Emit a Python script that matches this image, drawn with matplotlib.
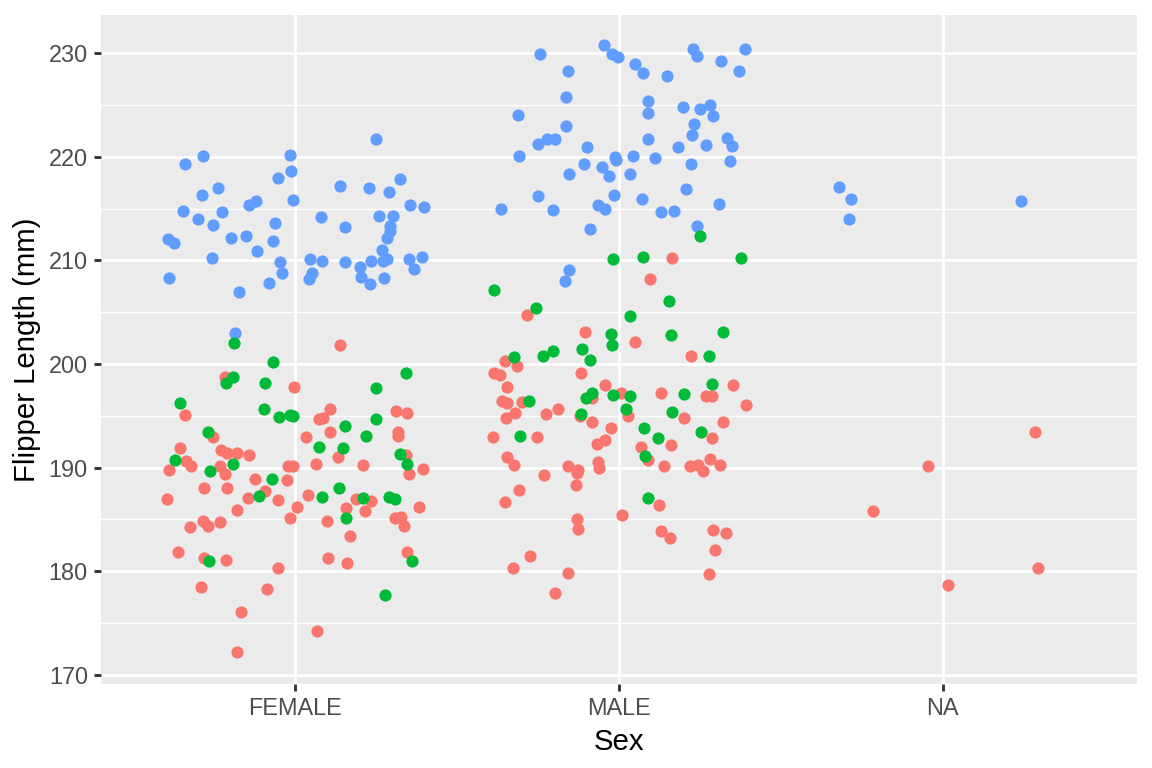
import matplotlib.pyplot as plt

# Font close to the Helvetica/Arial look of the original
plt.rcParams['font.family'] = ['Liberation Sans', 'DejaVu Sans']

# --- Data: flipper length (mm) by sex, with the horizontal jitter seen in the chart ---
sex_levels = ["FEMALE", "MALE", "NA"]

# FEMALE
female_adelie_jit = [0.138, -0.216, -0.005, -0.342, 0.108, 0.073, 0.087, 0.310, 0.346, 0.108,
                     0.032, 0.318, 0.318, -0.254, -0.355, -0.229, -0.210, -0.181, -0.142, 0.133,
                     -0.338, -0.323, -0.390, -0.233, -0.218, -0.021, -0.007, 0.065, 0.209, 0.342,
                     0.350, 0.395, -0.125, -0.027, -0.282, -0.211, -0.396, -0.147, -0.095, -0.053,
                     0.040, 0.189, 0.233, 0.381, 0.005, -0.179, 0.156, 0.215, 0.309, 0.326,
                     0.335, -0.016, 0.099, -0.284, -0.270, -0.325, -0.231, 0.169, -0.363, -0.282,
                     -0.214, 0.102, 0.159, 0.344, -0.054, -0.292, -0.088, -0.167, 0.066, -0.181]
female_adelie_len = [201.8, 198.7, 197.8, 195.1, 195.7, 194.7, 194.8, 195.5, 195.3, 193.4,
                     193.0, 193.4, 193.1, 193.0, 191.9, 191.7, 191.4, 191.4, 191.2, 191.0,
                     190.6, 190.2, 189.8, 190.2, 189.4, 190.2, 190.2, 190.4, 190.3, 191.2,
                     189.4, 189.9, 188.9, 188.8, 188.0, 188.0, 187.0, 187.1, 187.7, 186.9,
                     187.4, 187.0, 186.8, 186.2, 186.2, 185.9, 186.1, 185.8, 185.1, 185.2,
                     184.4, 185.1, 184.9, 184.9, 184.4, 184.3, 184.8, 183.4, 181.9, 181.3,
                     181.1, 181.3, 180.8, 181.9, 180.3, 178.5, 178.3, 176.1, 174.2, 172.2]

female_gentoo_jit = [0.248, -0.285, -0.342, -0.015, -0.012, -0.053, -0.239, -0.287, 0.139, 0.227,
                     0.290, 0.324, -0.007, -0.122, -0.142, -0.348, -0.226, -0.299, -0.255, 0.355,
                     0.399, 0.079, 0.258, 0.301, 0.155, -0.062, 0.294, 0.294, 0.283, -0.394,
                     -0.376, -0.200, -0.152, -0.068, -0.117, -0.258, 0.268, 0.044, 0.083, 0.155,
                     0.199, 0.234, 0.271, 0.282, 0.351, 0.391, 0.367, -0.047, -0.042, 0.052,
                     0.043, -0.391, 0.203, 0.275, 0.232, -0.080, -0.175, -0.186]
female_gentoo_len = [221.7, 220.1, 219.3, 220.2, 218.6, 217.9, 217.0, 216.3, 217.2, 217.0,
                     216.6, 217.8, 215.8, 215.7, 215.3, 214.8, 214.7, 214.0, 213.4, 215.3,
                     215.1, 214.2, 214.3, 214.3, 213.2, 213.6, 213.3, 212.8, 212.2, 212.1,
                     211.7, 212.2, 212.3, 211.9, 210.9, 210.2, 211.0, 210.1, 209.9, 209.8,
                     209.4, 209.9, 209.9, 210.1, 210.1, 210.3, 209.2, 209.8, 208.8, 208.8,
                     208.2, 208.3, 208.4, 208.3, 207.7, 207.8, 206.9, 203.0]

female_chinstrap_jit = [-0.190, -0.070, 0.342, -0.193, -0.215, -0.094, 0.250, -0.355, -0.098, -0.050,
                        -0.015, -0.008, 0.249, 0.153, 0.218, -0.271, 0.072, 0.147, -0.371, -0.262,
                        -0.192, 0.323, 0.346, -0.071, -0.112, 0.082, 0.136, 0.208, 0.288, 0.308,
                        0.156, -0.266, 0.362, 0.276]
female_chinstrap_len = [202.0, 200.2, 199.1, 198.7, 198.2, 198.2, 197.7, 196.2, 195.7, 194.9,
                        195.1, 195.0, 194.7, 194.0, 193.1, 193.4, 192.0, 191.9, 190.7, 189.7,
                        190.4, 191.3, 190.4, 188.9, 187.3, 187.2, 188.0, 187.1, 187.2, 187.0,
                        185.1, 181.0, 181.0, 177.7]

# MALE
male_adelie_jit = [0.163, 0.095, -0.284, -0.106, 0.049, 0.222, -0.353, -0.315, -0.387, -0.369,
                   -0.118, -0.347, -0.044, -0.084, 0.005, 0.130, 0.352, 0.269, 0.287, 0.391,
                   -0.361, -0.345, -0.299, -0.348, -0.321, -0.227, -0.187, -0.122, 0.027, 0.202,
                   0.321, -0.083, -0.024, -0.389, -0.253, -0.043, -0.067, 0.162, 0.287, 0.069,
                   0.091, -0.345, -0.325, -0.157, -0.127, -0.131, -0.066, -0.062, 0.138, 0.218,
                   0.243, 0.258, 0.280, 0.313, -0.233, -0.132, -0.310, -0.352, 0.122, 0.008,
                   -0.129, -0.128, 0.131, 0.156, 0.291, 0.329, 0.295, -0.276, -0.328, -0.159,
                   0.277, -0.198]
male_adelie_len = [210.2, 208.2, 204.7, 203.1, 202.1, 200.8, 200.3, 199.8, 199.1, 198.9,
                   199.1, 197.8, 198.0, 196.7, 197.2, 197.2, 198.0, 196.9, 196.9, 196.0,
                   196.4, 196.2, 196.3, 194.8, 195.3, 195.2, 195.7, 195.0, 195.0, 194.8,
                   194.4, 194.4, 193.8, 193.0, 193.0, 192.7, 192.3, 192.2, 192.9, 192.0,
                   190.7, 191.0, 190.3, 190.2, 189.8, 189.5, 190.5, 190.0, 190.2, 190.2,
                   190.3, 189.7, 190.8, 190.3, 189.3, 188.3, 187.8, 186.7, 186.4, 185.4,
                   185.0, 184.1, 183.9, 183.2, 184.0, 183.7, 182.1, 181.5, 180.3, 179.8,
                   179.7, 177.9]

male_gentoo_jit = [-0.046, -0.245, -0.021, -0.002, 0.227, 0.242, 0.388, 0.315, 0.370, 0.048,
                   0.074, 0.148, -0.157, -0.165, 0.091, 0.091, 0.197, 0.249, 0.282, 0.290,
                   -0.313, -0.164, 0.231, 0.224, 0.335, 0.348, 0.269, 0.091, 0.181, -0.249,
                   -0.221, -0.198, -0.099, -0.308, -0.012, -0.010, 0.043, 0.112, -0.107, -0.052,
                   0.222, 0.342, -0.153, -0.032, 0.034, -0.250, -0.015, 0.071, 0.208, 0.308,
                   -0.364, -0.204, -0.064, -0.043, 0.129, 0.170, -0.091, 0.240, -0.156, -0.168]
male_gentoo_len = [230.8, 229.9, 229.9, 229.6, 230.4, 229.7, 230.4, 229.2, 228.3, 228.9,
                   228.1, 227.8, 228.3, 225.8, 225.4, 224.2, 224.8, 224.6, 225.0, 223.9,
                   224.0, 223.0, 223.2, 222.1, 221.8, 221.0, 221.1, 221.7, 220.9, 221.2,
                   221.7, 221.7, 220.9, 220.1, 220.0, 219.7, 220.1, 219.9, 219.3, 219.0,
                   219.3, 219.6, 218.3, 218.1, 218.3, 216.2, 216.3, 215.9, 216.9, 215.4,
                   215.0, 214.9, 215.3, 215.0, 214.7, 214.8, 213.0, 213.3, 209.1, 208.0]

male_chinstrap_jit = [0.251, -0.018, 0.073, 0.376, -0.386, 0.155, -0.258, 0.035, -0.026, -0.022,
                      0.161, 0.322, 0.279, -0.236, -0.203, -0.114, -0.090, -0.324, -0.082, -0.101,
                      -0.018, 0.033, 0.201, 0.287, -0.279, -0.119, 0.021, 0.165, 0.076, 0.253,
                      -0.307, 0.120, 0.081, 0.089]
male_chinstrap_len = [212.3, 210.1, 210.3, 210.2, 207.1, 206.1, 205.4, 204.6, 202.9, 201.8,
                      202.8, 203.1, 200.8, 200.8, 201.3, 201.4, 200.4, 200.7, 197.2, 196.7,
                      197.0, 196.9, 197.1, 198.1, 196.4, 195.2, 195.7, 195.4, 193.8, 193.4,
                      193.1, 192.9, 191.1, 187.1]

# NA (sex not recorded)
na_adelie_jit = [0.284, -0.046, -0.214, 0.294, 0.016]
na_adelie_len = [193.4, 190.2, 185.8, 180.3, 178.7]
na_gentoo_jit = [-0.319, -0.284, -0.291, 0.241]
na_gentoo_len = [217.1, 215.9, 214.0, 215.7]

# ggplot2 default hue palette
adelie_color = "#F8766D"
chinstrap_color = "#00BA38"
gentoo_color = "#619CFF"

# --- Plot ---
fig = plt.figure(figsize=(6, 4), dpi=192)
ax = fig.add_axes([0.0877, 0.1094, 0.8993, 0.8711])

# draw in data-row order: Adelie, then Gentoo, then Chinstrap
layers = [
    (1, female_adelie_jit, female_adelie_len, adelie_color),
    (2, male_adelie_jit, male_adelie_len, adelie_color),
    (3, na_adelie_jit, na_adelie_len, adelie_color),
    (1, female_gentoo_jit, female_gentoo_len, gentoo_color),
    (2, male_gentoo_jit, male_gentoo_len, gentoo_color),
    (3, na_gentoo_jit, na_gentoo_len, gentoo_color),
    (1, female_chinstrap_jit, female_chinstrap_len, chinstrap_color),
    (2, male_chinstrap_jit, male_chinstrap_len, chinstrap_color),
]
for pos, jit, length, color in layers:
    xs = [pos + j for j in jit]
    ax.scatter(xs, length, s=21, color=color, linewidths=0, zorder=3)

# theme_grey look
ax.set_facecolor('#EBEBEB')
for spine in ax.spines.values():
    spine.set_visible(False)

ax.set_xlim(0.4, 3.6)
ax.set_ylim(169.13, 233.67)
ax.set_xticks([1, 2, 3])
ax.set_xticklabels(sex_levels)
ax.set_yticks(range(170, 231, 10))
ax.set_yticks(range(175, 231, 10), minor=True)

ax.grid(which='major', color='white', linewidth=1.07, zorder=0)
ax.grid(which='minor', axis='y', color='white', linewidth=0.53, zorder=0)
ax.set_axisbelow(True)

ax.tick_params(which='major', length=2.75, width=1.07, color='#333333',
               labelcolor='#4D4D4D', labelsize=8.8, pad=2.2)
ax.tick_params(which='minor', length=0)

ax.set_xlabel('Sex', fontsize=11, color='black', labelpad=2.75)
ax.set_ylabel('Flipper Length (mm)', fontsize=11, color='black', labelpad=2.75)

plt.savefig('out.png', dpi=192)
plt.close()
